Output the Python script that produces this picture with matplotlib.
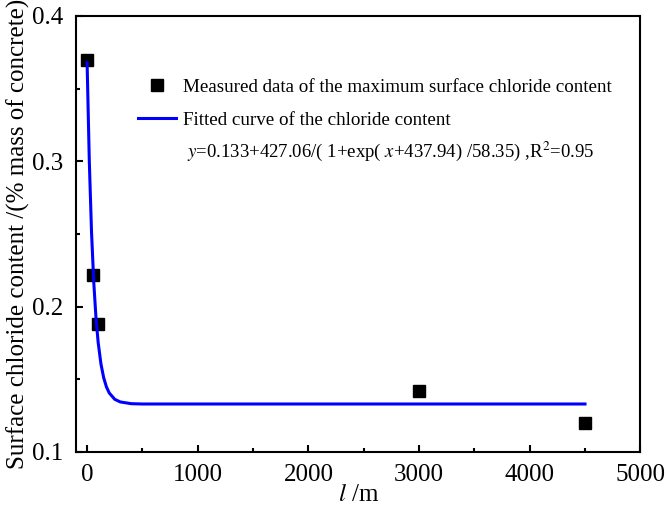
import numpy as np
import matplotlib.pyplot as plt
from matplotlib.ticker import MultipleLocator

plt.rcParams['font.family'] = ['Liberation Serif', 'DejaVu Serif']
plt.rcParams['mathtext.fontset'] = 'stix'

# measured points
dist = [0, 50, 100, 3000, 4500]
chloride = [0.370, 0.222, 0.188, 0.142, 0.120]

# fitted curve, values
fit_x = [0, 20, 40, 60, 80, 100, 125, 150, 175, 200, 250, 300, 400, 500, 700,
         1000, 1500, 2000, 2500, 3000, 3500, 4000, 4500]
fit_y = [0.3678, 0.2997, 0.2513, 0.2170, 0.1926, 0.1753, 0.1606, 0.1510, 0.1447,
         0.1406, 0.1362, 0.1344, 0.1332, 0.1330, 0.1330, 0.1330, 0.1330, 0.1330,
         0.1330, 0.1330, 0.1330, 0.1330, 0.1330]

fig = plt.figure(figsize=(6.67, 5.13), dpi=100)
ax = fig.add_axes([0.114, 0.119, 0.846, 0.850])

ax.plot(dist, chloride, 's', color='black', markersize=8.5, linestyle='none',
        label='Measured data of the maximum surface chloride content')
ax.plot(fit_x, fit_y, '-', color='#0000ff', linewidth=2.2,
        label='Fitted curve of the chloride content')

ax.set_xlim(-100, 5000)
ax.set_ylim(0.1, 0.4)
ax.xaxis.set_major_locator(MultipleLocator(1000))
ax.xaxis.set_minor_locator(MultipleLocator(500))
ax.yaxis.set_major_locator(MultipleLocator(0.1))
ax.yaxis.set_minor_locator(MultipleLocator(0.05))
ax.tick_params(which='both', direction='in', top=False, right=False, width=1.5,
               labelsize=18)
ax.tick_params(which='major', length=5)
ax.tick_params(which='minor', length=3)
ax.tick_params(axis='x', pad=9)
ax.tick_params(axis='y', pad=9)
for s in ax.spines.values():
    s.set_linewidth(1.5)

ax.set_xlabel('$\\it{l}$ /m', fontsize=18, labelpad=-2)
ax.set_ylabel('Surface chloride content /(% mass of concrete)', fontsize=18, labelpad=2)

leg = ax.legend(loc='upper left', bbox_to_anchor=(0.096, 0.874), frameon=False,
                fontsize=13.7, handlelength=2.0, handletextpad=0.4, labelspacing=0.82,
                borderaxespad=0)
ax.text(0.196, 0.69,
        '$\\it{y}$=0.133+427.06/( 1+exp( $\\it{x}$+437.94) /58.35) ,R$^2$=0.95',
        transform=ax.transAxes, fontsize=13.5, ha='left', va='center')

fig.savefig('out.png', dpi=100)
